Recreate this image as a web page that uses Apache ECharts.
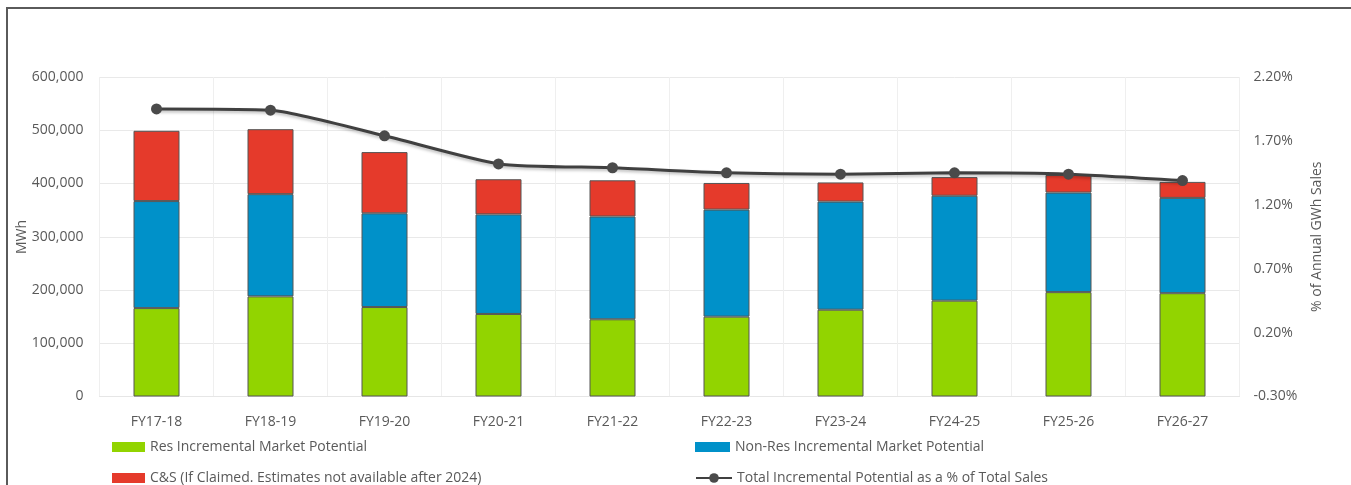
<!DOCTYPE html>
<html>
<head>
<meta charset="utf-8">
<script src="https://cdn.jsdelivr.net/npm/echarts@6/dist/echarts.min.js"></script>
<style>
html,body{margin:0;padding:0;background:#fff;}
#chart{width:1351px;height:485px;}
</style>
</head>
<body>
<div id="chart"></div>
<script>
const categories = ['FY17-18','FY18-19','FY19-20','FY20-21','FY21-22','FY22-23','FY23-24','FY24-25','FY25-26','FY26-27'];
const resValues = [166000, 188000, 168000, 155000, 145000, 150000, 163000, 180000, 196000, 194000];
const nonResValues = [201000, 192000, 176000, 187000, 193000, 201000, 203000, 197000, 187000, 179000];
const csValues = [132000, 122000, 115000, 66000, 68000, 50000, 36000, 35000, 33000, 30000];
const pctValues = [1.95, 1.94, 1.74, 1.52, 1.49, 1.45, 1.44, 1.45, 1.44, 1.39];
const seriesNames = ['Res Incremental Market Potential','Non-Res Incremental Market Potential','C&S (If Claimed. Estimates not available after 2024)','Total Incremental Potential as a % of Total Sales'];
const leftAxisName = 'MWh';
const rightAxisName = '% of Annual GWh Sales';

const FONT = 'Open Sans';
const TXT = '#595959';
const chart = echarts.init(document.getElementById('chart'), null, {renderer:'canvas'});
const barStyle = (c) => ({color:c, borderColor:'#555555', borderWidth:1});
const legendText = {fontFamily:FONT, fontSize:14, color:TXT};
const barLegendItem = {borderWidth:0};
chart.setOption({
  animation:false,
  backgroundColor:'#ffffff',
  graphic:[
    {type:'rect', shape:{x:7, y:8, width:1400, height:520}, style:{fill:'none', stroke:'#5a5a5a', lineWidth:2}, silent:true},
    {type:'text', x:22, y:237, rotation:Math.PI/2, style:{text:leftAxisName, fontFamily:FONT, fontSize:14, fill:TXT, align:'center', verticalAlign:'middle'}, silent:true}
  ],
  grid:{left:99.5, right:111.5, top:77, bottom:88.5},
  legend:[
    {data:[seriesNames[0]], left:112, top:440, icon:'rect', itemWidth:33, itemHeight:10, itemGap:4, itemStyle:barLegendItem, textStyle:legendText, padding:0},
    {data:[seriesNames[1]], left:695, top:440, icon:'rect', itemWidth:35, itemHeight:10, itemStyle:barLegendItem, textStyle:legendText, padding:0},
    {data:[seriesNames[2]], left:112, top:471, icon:'rect', itemWidth:33, itemHeight:10, itemStyle:barLegendItem, textStyle:legendText, padding:0},
    {data:[seriesNames[3]], left:695, top:471, itemWidth:36, itemHeight:12, textStyle:legendText, padding:0}
  ],
  xAxis:{
    type:'category', data:categories,
    axisLine:{show:true, lineStyle:{color:'#e6e6e6'}},
    axisTick:{show:false},
    axisLabel:{fontFamily:FONT, fontSize:14, color:TXT, margin:19},
    splitLine:{show:true, lineStyle:{color:'#efefef'}}
  },
  yAxis:[
    {type:'value', min:0, max:600000, interval:100000,
     axisLabel:{fontFamily:FONT, fontSize:14, color:TXT, margin:16, formatter:(v)=>v.toLocaleString('en-US')},
     axisLine:{show:false}, axisTick:{show:false},
     splitLine:{lineStyle:{color:'#e9e9e9'}}},
    {type:'value', min:-0.3, max:2.2, interval:0.5, name:rightAxisName, nameLocation:'middle', nameGap:71,
     nameTextStyle:{fontFamily:FONT, fontSize:14, color:TXT},
     axisLabel:{fontFamily:FONT, fontSize:14, color:TXT, margin:14, formatter:(v)=>v.toFixed(2)+'%'},
     axisLine:{show:false}, axisTick:{show:false}, splitLine:{show:false}}
  ],
  series:[
    {name:seriesNames[0], type:'bar', stack:'a', data:resValues, barWidth:46, itemStyle:barStyle('#92d400')},
    {name:seriesNames[1], type:'bar', stack:'a', data:nonResValues, barWidth:46, itemStyle:barStyle('#0091c9')},
    {name:seriesNames[2], type:'bar', stack:'a', data:csValues, barWidth:46, itemStyle:barStyle('#e53a2b')},
    {name:seriesNames[3], type:'line', yAxisIndex:1, data:pctValues, smooth:0.2,
     symbol:'circle', symbolSize:11,
     lineStyle:{color:'#404040', width:3, shadowColor:'rgba(0,0,0,0.25)', shadowBlur:3, shadowOffsetY:2},
     itemStyle:{color:'#4a4a4a'}, z:5}
  ]
});
</script>
</body>
</html>
